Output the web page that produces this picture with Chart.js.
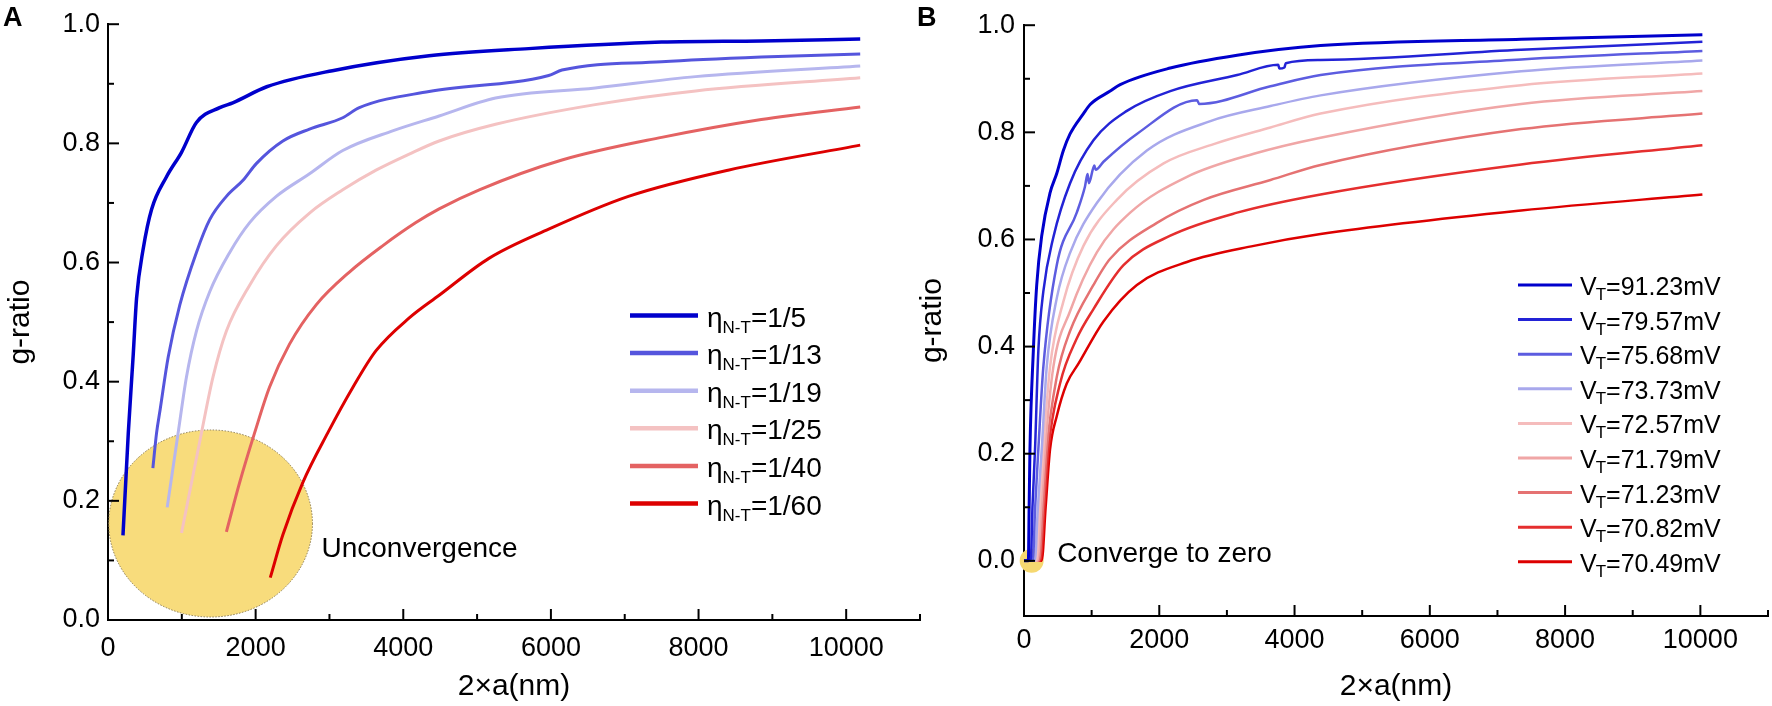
<!DOCTYPE html>
<html>
<head>
<meta charset="utf-8">
<script src="https://cdn.jsdelivr.net/npm/chart.js@4.4.1/dist/chart.umd.min.js"></script>
<style>
html,body{margin:0;padding:0;background:#ffffff;}
#wrap{position:relative;width:1772px;height:706px;overflow:hidden;}
canvas{position:absolute;left:0;top:0;}
</style>
</head>
<body>
<div id="wrap">
<canvas id="cA" width="1772" height="706"></canvas>
<canvas id="cB" width="1772" height="706"></canvas>
</div>
<script>
// ---------------- data ----------------
const xTicks = [0, 2000, 4000, 6000, 8000, 10000];
const xMinorTicks = [1000, 3000, 5000, 7000, 9000, 11000];
const yTicks = [0.0, 0.2, 0.4, 0.6, 0.8, 1.0];
const yMinorTicks = [0.1, 0.3, 0.5, 0.7, 0.9];

// Panel A: eta_N-T series
const etaLabels = ['1/5', '1/13', '1/19', '1/25', '1/40', '1/60'];
const a1x = [203, 275, 342, 387, 477, 590, 793, 996, 1198, 1513, 1690, 2150, 3040, 4350, 5700, 7500, 8850, 10190];
const a1y = [0.142, 0.314, 0.446, 0.540, 0.623, 0.689, 0.744, 0.785, 0.835, 0.860, 0.868, 0.895, 0.922, 0.947, 0.959, 0.970, 0.972, 0.975];
const a2x = [608, 658, 706, 815, 973, 1198, 1378, 1604, 1829, 2009, 2369, 2730, 3180, 3405, 4350, 5970, 6150, 7500, 8850, 10190];
const a2y = [0.255, 0.314, 0.353, 0.441, 0.529, 0.617, 0.672, 0.711, 0.738, 0.766, 0.804, 0.824, 0.843, 0.860, 0.887, 0.914, 0.923, 0.937, 0.945, 0.950];
const a3x = [802, 950, 1063, 1198, 1378, 1649, 1919, 2280, 2730, 3180, 3855, 4486, 5250, 6600, 7960, 10190];
const a3y = [0.189, 0.314, 0.408, 0.485, 0.551, 0.617, 0.667, 0.711, 0.749, 0.788, 0.821, 0.846, 0.876, 0.893, 0.912, 0.930];
const a4x = [996, 1266, 1423, 1604, 1919, 2280, 2730, 3180, 3631, 4081, 4486, 5250, 6600, 7960, 10190];
const a4y = [0.146, 0.314, 0.408, 0.485, 0.562, 0.628, 0.683, 0.722, 0.755, 0.782, 0.804, 0.832, 0.865, 0.888, 0.910];
const a5x = [1604, 1784, 1986, 2189, 2459, 2820, 3270, 3720, 4171, 4486, 5030, 6150, 7500, 8850, 10190];
const a5y = [0.148, 0.231, 0.314, 0.391, 0.463, 0.529, 0.584, 0.628, 0.667, 0.690, 0.722, 0.772, 0.810, 0.840, 0.861];
const a6x = [2198, 2369, 2640, 2977, 3320, 3631, 4081, 4486, 5160, 5970, 7050, 8400, 10190];
const a6y = [0.071, 0.143, 0.231, 0.314, 0.391, 0.452, 0.507, 0.545, 0.607, 0.656, 0.711, 0.755, 0.797];

// Panel B: V_T series
const vtLabels = ['91.23', '79.57', '75.68', '73.73', '72.57', '71.79', '71.23', '70.82', '70.49'];
const b1x = [0, 64, 76, 88, 138, 188, 262, 385, 484, 582, 681, 879, 978, 1274, 1422, 2163, 3151, 4385, 7350, 10030];
const b1y = [0, 0, 0.10, 0.208, 0.392, 0.515, 0.607, 0.687, 0.723, 0.766, 0.797, 0.835, 0.852, 0.877, 0.889, 0.920, 0.944, 0.962, 0.974, 0.982];
const b2x = [0, 100, 125, 163, 212, 286, 434, 681, 1027, 1521, 2163, 3151, 3760, 3775, 3850, 3870, 4385, 7350, 10030];
const b2y = [0, 0, 0.10, 0.208, 0.392, 0.503, 0.604, 0.705, 0.785, 0.840, 0.877, 0.907, 0.926, 0.919, 0.921, 0.929, 0.935, 0.954, 0.969];
const b3x = [0, 130, 165, 212, 286, 484, 780, 900, 940, 960, 1040, 1060, 1175, 1669, 2560, 2590, 3644, 4385, 7350, 10030];
const b3y = [0, 0, 0.10, 0.208, 0.362, 0.552, 0.650, 0.698, 0.722, 0.705, 0.738, 0.730, 0.745, 0.797, 0.860, 0.853, 0.886, 0.907, 0.936, 0.952];
const b4x = [0, 160, 205, 262, 336, 484, 681, 1077, 1817, 2756, 3644, 4385, 7350, 10030];
const b4y = [0, 0, 0.10, 0.208, 0.362, 0.490, 0.575, 0.668, 0.766, 0.821, 0.849, 0.869, 0.914, 0.934];
const b5x = [0, 180, 230, 286, 385, 582, 879, 1373, 2064, 2805, 3644, 4385, 7350, 10030];
const b5y = [0, 0, 0.10, 0.208, 0.362, 0.484, 0.588, 0.674, 0.742, 0.778, 0.809, 0.835, 0.888, 0.910];
const b6x = [0, 200, 255, 311, 434, 681, 1077, 1570, 2410, 3398, 4385, 7350, 10030];
const b6y = [0, 0, 0.10, 0.208, 0.362, 0.466, 0.576, 0.650, 0.717, 0.760, 0.790, 0.853, 0.877];
const b7x = [0, 220, 280, 336, 484, 681, 1027, 1274, 1965, 2657, 3644, 4385, 7350, 10030];
const b7y = [0, 0, 0.10, 0.208, 0.343, 0.429, 0.515, 0.564, 0.631, 0.674, 0.711, 0.739, 0.806, 0.835];
const b8x = [0, 240, 300, 360, 533, 780, 1027, 1471, 2163, 3151, 4385, 7350, 10030];
const b8y = [0, 0, 0.10, 0.208, 0.331, 0.415, 0.470, 0.552, 0.607, 0.650, 0.684, 0.740, 0.776];
const b9x = [0, 262, 320, 385, 484, 632, 805, 1175, 1669, 2410, 3398, 4385, 7350, 10030];
const b9y = [0, 0, 0.10, 0.208, 0.270, 0.331, 0.368, 0.447, 0.515, 0.558, 0.588, 0.610, 0.654, 0.684];

// ---------------- helpers ----------------
const FONT = '"Liberation Sans", Arial, Helvetica, sans-serif';
Chart.defaults.font.family = FONT;
Chart.defaults.color = '#000';

const pts = (xs, ys) => xs.map((x, i) => ({x: x, y: ys[i]}));

function series(label, xs, ys, color, width) {
  return {
    label: label, data: pts(xs, ys), borderColor: color, backgroundColor: color,
    borderWidth: width, pointRadius: 0, pointHoverRadius: 0, fill: false,
    cubicInterpolationMode: 'monotone', borderJoinStyle: 'round', borderCapStyle: 'butt'
  };
}

const innerTicks = {
  id: 'innerTicks',
  afterDraw(chart, args, o) {
    const {ctx, chartArea: a, scales: {x, y}} = chart;
    ctx.save();
    ctx.strokeStyle = '#000'; ctx.lineWidth = 2; ctx.lineCap = 'butt';
    const seg = (x1, y1, x2, y2) => { ctx.beginPath(); ctx.moveTo(x1, y1); ctx.lineTo(x2, y2); ctx.stroke(); };
    o.xMajor.forEach(v => { const p = x.getPixelForValue(v); if (v > x.min) seg(p, a.bottom, p, a.bottom - o.major); });
    o.xMinor.forEach(v => { const p = x.getPixelForValue(v); seg(p, a.bottom, p, a.bottom - o.minor); });
    o.yMajor.forEach(v => { const p = y.getPixelForValue(v); seg(a.left, p, a.left + o.major, p); });
    o.yMinor.forEach(v => { const p = y.getPixelForValue(v); seg(a.left, p, a.left + o.minor, p); });
    ctx.restore();
  }
};

const zones = {
  id: 'zones',
  beforeDatasetsDraw(chart, args, o) {
    const {ctx, scales: {x, y}} = chart;
    ctx.save();
    (o.items || []).forEach(z => {
      const cx = x.getPixelForValue(z.x), cy = y.getPixelForValue(z.y);
      const rx = z.rx != null ? Math.abs(x.getPixelForValue(z.x + z.rx) - cx) : z.r;
      const ry = z.ry != null ? Math.abs(y.getPixelForValue(z.y + z.ry) - cy) : z.r;
      ctx.beginPath(); ctx.ellipse(cx, cy, rx, ry, 0, 0, Math.PI * 2);
      ctx.fillStyle = z.fill; ctx.fill();
      if (z.stroke) { ctx.setLineDash([1.5, 1.5]); ctx.strokeStyle = z.stroke; ctx.lineWidth = 1; ctx.stroke(); ctx.setLineDash([]); }
    });
    ctx.restore();
  }
};

const notes = {
  id: 'notes',
  afterDraw(chart, args, o) {
    const {ctx, scales: {x, y}} = chart;
    ctx.save();
    ctx.fillStyle = '#000'; ctx.textAlign = 'left';
    (o.texts || []).forEach(t => {
      ctx.font = t.size + 'px ' + FONT; ctx.textBaseline = 'middle';
      ctx.fillText(t.text, x.getPixelForValue(t.x), y.getPixelForValue(t.y));
    });
    if (o.panel) {
      ctx.font = 'bold ' + o.panel.size + 'px ' + FONT; ctx.textBaseline = 'alphabetic';
      ctx.fillText(o.panel.text, o.panel.x, o.panel.y);
    }
    ctx.restore();
  }
};

const richLegend = {
  id: 'richLegend',
  afterDraw(chart, args, o) {
    const ctx = chart.ctx;
    ctx.save();
    chart.data.datasets.forEach((ds, i) => {
      const y = o.top + i * o.step;
      ctx.strokeStyle = ds.borderColor; ctx.lineWidth = o.lineWidth; ctx.lineCap = 'butt';
      ctx.beginPath(); ctx.moveTo(o.x1, y); ctx.lineTo(o.x2, y); ctx.stroke();
      let x = o.textX;
      ctx.fillStyle = '#000'; ctx.textAlign = 'left'; ctx.textBaseline = 'alphabetic';
      ctx.font = o.size + 'px ' + FONT; ctx.fillText(o.main, x, y + o.base); x += ctx.measureText(o.main).width + o.gap;
      ctx.font = o.subSize + 'px ' + FONT; ctx.fillText(o.sub, x, y + o.subBase); x += ctx.measureText(o.sub).width;
      ctx.font = o.size + 'px ' + FONT; ctx.fillText('=' + o.values[i] + o.unit, x, y + o.base);
    });
    ctx.restore();
  }
};

function makeScales(p) {
  return {
    x: {
      type: 'linear', min: 0, max: 11000,
      grid: {display: false, drawTicks: false},
      border: {display: true, color: '#000', width: 2},
      ticks: {font: {size: 27}, color: '#000', padding: p.xPad, autoSkip: false, maxRotation: 0,
              callback: v => String(v)},
      afterBuildTicks: s => { s.ticks = xTicks.map(v => ({value: v})); },
      afterFit: s => { s.height = p.xH; },
      title: {display: true, text: '2×a(nm)', font: {size: 30}, color: '#000', padding: {top: 0, bottom: 1}}
    },
    y: {
      type: 'linear', min: p.yMin, max: 1.0,
      grid: {display: false, drawTicks: false},
      border: {display: true, color: '#000', width: 2},
      ticks: {font: {size: 27}, color: '#000', padding: p.yPad, callback: v => v.toFixed(1)},
      afterBuildTicks: s => { s.ticks = yTicks.map(v => ({value: v})); },
      afterFit: s => { s.width = p.yW; },
      title: {display: true, text: 'g-ratio', font: {size: 30}, color: '#000', padding: {top: p.yTitlePad, bottom: 0}}
    }
  };
}

const tickOpts = {xMajor: xTicks, xMinor: xMinorTicks, yMajor: yTicks, yMinor: yMinorTicks, major: 11, minor: 6};

// ---------------- Panel A ----------------
new Chart(document.getElementById('cA'), {
  type: 'line',
  data: {
    datasets: [
      series('ηN-T=' + etaLabels[0], a1x, a1y, '#0000cc', 3.5),
      series('ηN-T=' + etaLabels[1], a2x, a2y, '#5555dd', 3),
      series('ηN-T=' + etaLabels[2], a3x, a3y, '#b6b6ee', 3),
      series('ηN-T=' + etaLabels[3], a4x, a4y, '#f4c2c2', 3),
      series('ηN-T=' + etaLabels[4], a5x, a5y, '#e46262', 3),
      series('ηN-T=' + etaLabels[5], a6x, a6y, '#dd0000', 3)
    ]
  },
  plugins: [zones, innerTicks, notes, richLegend],
  options: {
    responsive: false, animation: false, devicePixelRatio: 1,
    layout: {padding: {left: 0, right: 852, top: 15, bottom: 0}},
    events: [],
    scales: makeScales({xPad: 12, xH: 86, yPad: 8, yW: 108, yMin: 0, yTitlePad: 3}),
    plugins: {
      legend: {display: false}, tooltip: {enabled: false},
      zones: {items: [{x: 1390, y: 0.162, rx: 1380, ry: 0.157, fill: '#f8dc7c', stroke: '#8a7a50'}]},
      innerTicks: tickOpts,
      notes: {texts: [{text: 'Unconvergence', x: 2892, y: 0.119, size: 28}], panel: {text: 'A', x: 3, y: 26, size: 27}},
      richLegend: {top: 315.5, step: 37.6, x1: 630, x2: 698, lineWidth: 4.5, textX: 707, main: 'η', sub: 'N-T',
                   values: etaLabels, unit: '', size: 28, subSize: 17, base: 11, subBase: 17, gap: 0}
    }
  }
});

// ---------------- Panel B ----------------
new Chart(document.getElementById('cB'), {
  type: 'line',
  data: {
    datasets: [
      series('VT=' + vtLabels[0] + 'mV', b1x, b1y, '#0000cc', 3),
      series('VT=' + vtLabels[1] + 'mV', b2x, b2y, '#2323d6', 2.5),
      series('VT=' + vtLabels[2] + 'mV', b3x, b3y, '#5c5ce0', 2.5),
      series('VT=' + vtLabels[3] + 'mV', b4x, b4y, '#a8a8ec', 2.5),
      series('VT=' + vtLabels[4] + 'mV', b5x, b5y, '#f5bcbc', 2.5),
      series('VT=' + vtLabels[5] + 'mV', b6x, b6y, '#f0a6a6', 2.5),
      series('VT=' + vtLabels[6] + 'mV', b7x, b7y, '#e57272', 2.5),
      series('VT=' + vtLabels[7] + 'mV', b8x, b8y, '#e52e2e', 2.5),
      series('VT=' + vtLabels[8] + 'mV', b9x, b9y, '#dd0000', 2.5)
    ]
  },
  plugins: [zones, innerTicks, notes, richLegend],
  options: {
    responsive: false, animation: false, devicePixelRatio: 1,
    layout: {padding: {left: 910, right: 4, top: 15.5, bottom: 0}},
    events: [],
    scales: makeScales({xPad: 8.5, xH: 90, yPad: 9, yW: 114, yMin: -0.103, yTitlePad: 5}),
    plugins: {
      legend: {display: false}, tooltip: {enabled: false},
      zones: {items: [{x: 113, y: 0, r: 12, fill: '#f6d870'}]},
      innerTicks: tickOpts,
      notes: {texts: [{text: 'Converge to zero', x: 490, y: 0.012, size: 28}], panel: {text: 'B', x: 917, y: 26, size: 27}},
      richLegend: {top: 285, step: 34.6, x1: 1518, x2: 1572, lineWidth: 3, textX: 1580, main: 'V', sub: 'T',
                   values: vtLabels, unit: 'mV', size: 25, subSize: 17, base: 10, subBase: 15, gap: -1}
    }
  }
});
</script>
</body>
</html>
